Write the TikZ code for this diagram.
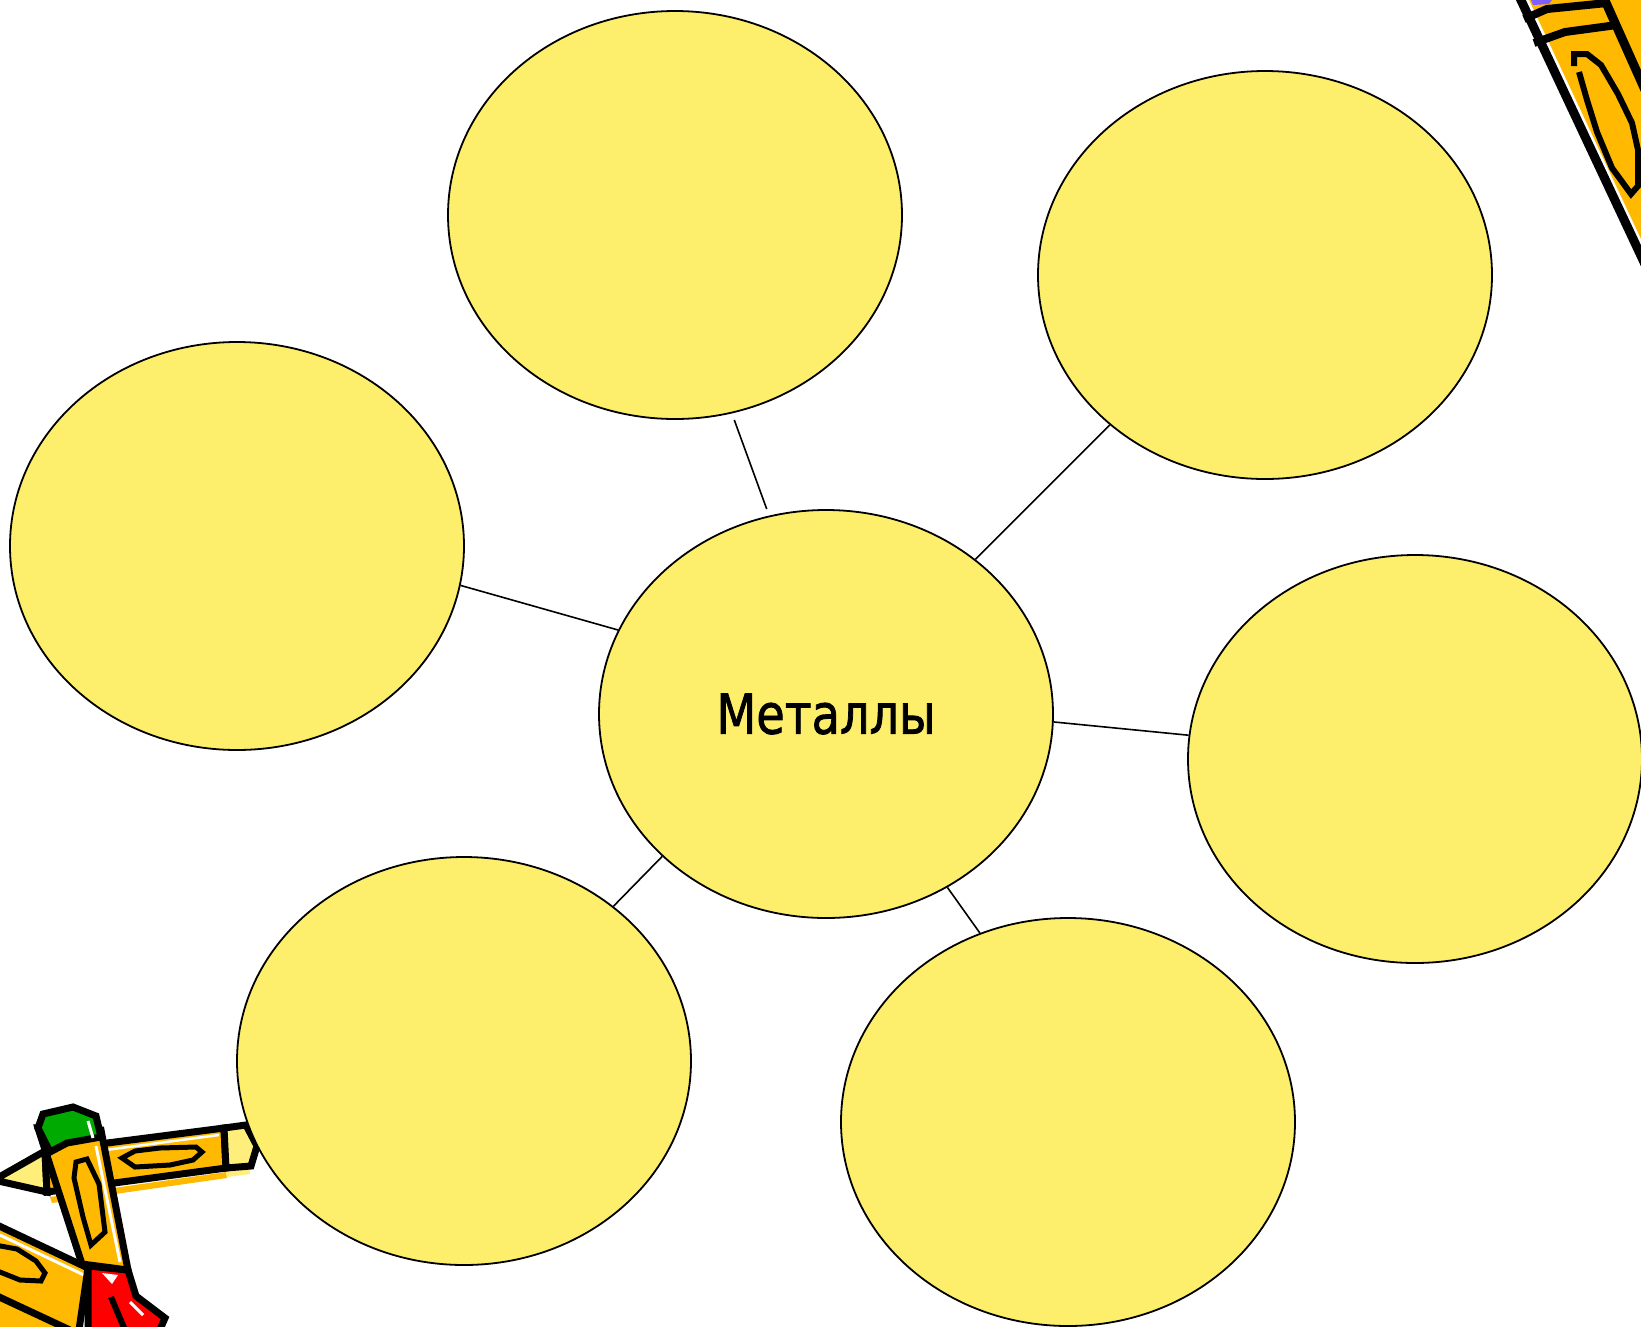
\documentclass[tikz,border=0pt]{standalone}
\usepackage{fontspec}
\setmainfont{DejaVu Sans}
\newfontfamily\labelfont{DejaVu Sans}[FakeBold=1.6]
\usetikzlibrary{shapes.geometric}

\definecolor{bubblefill}{RGB}{253,238,108}
\definecolor{pencilorange}{RGB}{255,185,0}
\definecolor{woodpale}{RGB}{255,239,122}
\definecolor{capgreen}{RGB}{0,170,0}
\definecolor{leadred}{RGB}{255,0,0}
\definecolor{leadviolet}{RGB}{127,95,255}

\begin{document}
\begin{tikzpicture}[x=1pt, y=-1pt,
    bubble/.style={shape=ellipse, draw, fill=bubblefill, line width=1.8pt, minimum width=454pt, minimum height=408pt, inner sep=0pt},
    link/.style={draw, line width=1.6pt},
    ink/.style={draw=black, line width=7pt, line join=miter, miter limit=3}]

    \useasboundingbox (0,0) rectangle (1641,1326);
    \clip (0,0) rectangle (1641,1326);

    % pencil in the top right corner
    \fill[pencilorange] (1526,0) -- (1641,246) -- (1641,0) -- cycle;
    \draw[white, line width=3.5pt] (1527,0) -- (1645,252);
    \draw[line width=9pt] (1519,-4) -- (1658,292);
    \draw[line width=9pt] (1603,-4) -- (1645,90);
    \fill[leadviolet] (1531,0) -- (1552,0) -- (1549,4) -- (1533,5) -- cycle;
    \draw[line width=8pt, line join=miter] (1524,19) -- (1547,9) -- (1607,3);
    \draw[line width=8pt, line join=miter] (1534,43) -- (1565,32) -- (1617,25);
    \draw[line width=6pt, line join=miter] (1574,66) -- (1574,54) -- (1587,54) -- (1601,65) -- (1618,94) -- (1632,123) -- (1638,150) -- (1638,186) -- (1631,194) -- (1612,168) -- (1597,132) -- (1587,100) -- (1579,72);

    % lying pencil, tip to the left
    \fill[pencilorange] (50,1197) -- (226,1172) -- (227,1178) -- (52,1203) -- cycle;
    \fill[woodpale] (226,1171) -- (250,1168) -- (250,1174) -- (227,1177) -- cycle;
    \filldraw[ink, fill=woodpale] (-6,1180) -- (45,1151) -- (47,1192) -- cycle;
    \filldraw[ink, fill=pencilorange] (45,1151) -- (224,1128) -- (226,1168) -- (47,1192) -- cycle;
    \draw[white, line width=2.5pt] (60,1156) -- (219,1135);
    \filldraw[ink, fill=woodpale] (224,1128) -- (246,1125) -- (257,1146) -- (251,1166) -- (226,1168) -- cycle;
    \filldraw[ink, line width=5pt, fill=pencilorange] (122,1158) -- (135,1151) -- (160,1148) -- (196,1147) -- (202,1152) -- (193,1160) -- (170,1165) -- (135,1167) -- cycle;

    % pencil coming in from the bottom left
    \fill[pencilorange] (0,1226) -- (88,1268) -- (79,1330) -- (0,1330) -- cycle;
    \draw[white, line width=3pt] (0,1235) -- (84,1275);
    \draw[ink] (-5,1224) -- (88,1268);
    \draw[ink] (-5,1295) -- (70,1330);
    \filldraw[ink, line width=5pt, fill=pencilorange] (-5,1245) -- (17,1249) -- (36,1261) -- (45,1273) -- (41,1281) -- (20,1280) -- (-5,1270) -- cycle;

    % standing pencil with the red tip
    \filldraw[ink, fill=leadred] (88,1266) -- (128,1270) -- (136,1296) -- (165,1318) -- (158,1334) -- (88,1334) -- cycle;
    \draw[ink] (88,1268) -- (79,1330);
    \fill[white] (102,1273) -- (118,1275) -- (112,1284) -- cycle;
    \draw[line width=6pt] (111,1297) -- (125,1330);
    \draw[white, line width=3pt] (130,1302) -- (143,1315);
    \filldraw[ink, fill=pencilorange] (38,1128) -- (101,1130) -- (128,1270) -- (82,1264) -- cycle;
    \draw[white, line width=3pt] (96,1146) -- (120,1262);
    \filldraw[ink, fill=capgreen] (38,1128) -- (43,1114) -- (73,1107) -- (96,1116) -- (101,1137) -- (67,1143) -- (50,1152) -- cycle;
    \draw[white, line width=3pt] (88,1121) -- (93,1138);
    \filldraw[ink, line width=5pt, fill=pencilorange] (76,1162) -- (87,1159) -- (99,1184) -- (105,1232) -- (91,1245) -- (83,1217) -- (74,1178) -- cycle;

    \node (C) [bubble] at (826,714) {\scalebox{0.84}[1]{\labelfont\fontsize{55}{64}\selectfont Металлы}};
    \node (N) [bubble] at (675,215) {};
    \node (NE) [bubble] at (1265,275) {};
    \node (W) [bubble] at (237,546) {};
    \node (E) [bubble] at (1415,759) {};
    \node (SW) [bubble] at (464,1061) {};
    \node (SE) [bubble] at (1068,1122) {};

    \path[link, shorten <=7pt, shorten >=7pt] (N.-74) -- (C.106);
    \path[link] (NE.-136) -- (C.46);
    \path[link] (W.-10) -- (C.158);
    \path[link] (E.174) -- (C.-2);
    \path[link] (SW.46) -- (C.-139);
    \path[link] (SE.115) -- (C.-55);

\end{tikzpicture}
\end{document}
